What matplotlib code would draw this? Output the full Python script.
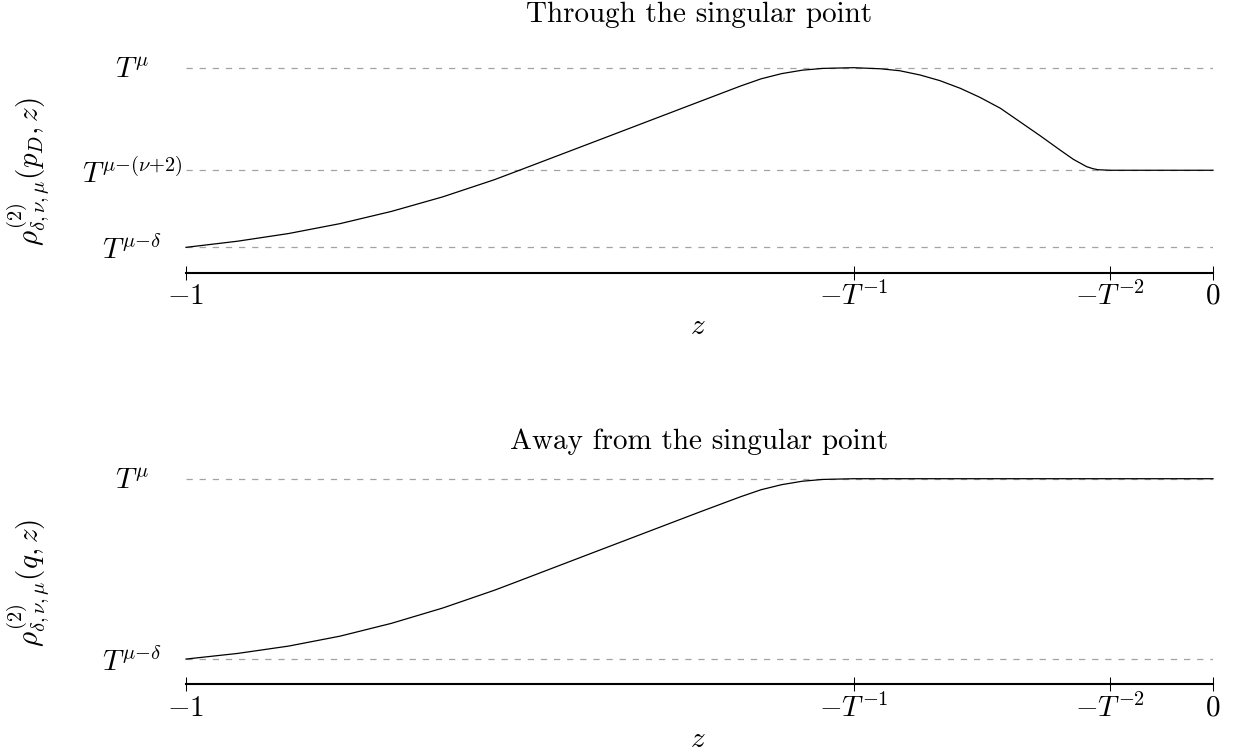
import numpy as np
import matplotlib
matplotlib.use('Agg')
import matplotlib.pyplot as plt

plt.rcParams['mathtext.fontset'] = 'cm'

# z positions of the tick marks (axis scaled so that -1 -> 0 spans the width)
z_ticks = [-1.0, -0.35, -0.10, 0.0]
z_labels = [r'$-1$', r'$-T^{-1}$', r'$-T^{-2}$', r'$0$']

# levels of the dashed reference lines, normalised so T^{mu-delta}=0, T^mu=1
levels_top = [1.0, 0.429, 0.0]
labels_top = [r'$T^{\mu}$', r'$T^{\mu{-}(\nu{+}2)}$', r'$T^{\mu{-}\delta}$']
levels_bot = [1.0, 0.0]
labels_bot = [r'$T^{\mu}$', r'$T^{\mu{-}\delta}$']

# weight through the singular point
z_through = [-1.0, -0.95, -0.90, -0.85, -0.80, -0.75, -0.70, -0.68,
             -0.60, -0.50, -0.46, -0.44, -0.42, -0.40, -0.38, -0.35,
             -0.324, -0.305, -0.285, -0.266, -0.246, -0.227, -0.207, -0.188,
             -0.168, -0.149, -0.136, -0.123, -0.117, -0.112, -0.100, 0.0]
rho_through = [0.0, 0.034, 0.077, 0.132, 0.200, 0.281, 0.376, 0.419,
               0.593, 0.811, 0.898, 0.938, 0.967, 0.986, 0.996, 1.0,
               0.994, 0.983, 0.959, 0.928, 0.885, 0.835, 0.774, 0.699,
               0.620, 0.542, 0.490, 0.449, 0.438, 0.432, 0.429, 0.429]

# weight away from the singular point
z_away = [-1.0, -0.95, -0.90, -0.85, -0.80, -0.75, -0.70, -0.68,
          -0.60, -0.50, -0.46, -0.44, -0.42, -0.40, -0.38, -0.35, 0.0]
rho_away = [0.0, 0.031, 0.072, 0.127, 0.198, 0.283, 0.381, 0.424,
            0.598, 0.815, 0.900, 0.939, 0.967, 0.986, 0.996, 1.0, 1.0]

W, H = 1237, 751
FS = 21


def panel(rect, levels, level_labels, z, rho, ylabel, title, ylab_y, title_y, zlab_y):
    fig = plt.gcf()
    ax = fig.add_axes(rect)
    ax.set_xlim(-1, 0)
    ax.set_ylim(-0.14, 1.05)

    for lev in levels:
        ax.axhline(lev, color='#a3a3a3', lw=0.9, ls=(0, (5, 5.5)), zorder=1)
    ax.plot(z, rho, color='k', lw=0.9, clip_on=False, zorder=2)

    for s in ['top', 'right', 'left']:
        ax.spines[s].set_visible(False)
    ax.spines['bottom'].set_linewidth(1.5)

    ax.set_xticks(z_ticks)
    ax.set_xticklabels(z_labels, fontsize=FS)
    ax.tick_params(axis='x', direction='inout', length=9.4, width=0.75, pad=2)

    ax.set_yticks(levels)
    ax.set_yticklabels(level_labels, fontsize=FS, ha='center')
    ax.tick_params(axis='y', length=0, pad=38.9)

    cx = (186 + 1213) / 2 / W
    fig.text(cx, 1 - title_y / H, title, fontfamily='cmr10', fontsize=FS,
             ha='center', va='baseline')
    fig.text(cx - 1.5 / W, 1 - zlab_y / H, r'$z$', fontsize=FS,
             ha='center', va='center')
    fig.text(29 / W, 1 - ylab_y / H, ylabel, fontsize=FS, rotation=90,
             ha='center', va='center')
    return ax


def main():
    fig = plt.figure(figsize=(W / 100, H / 100), dpi=100)
    left = 186 / W
    width = (1213 - 186) / W

    panel([left, 1 - 272.5 / H, width, (272.5 - 58.7) / H],
          levels_top, labels_top, z_through, rho_through,
          r'$\rho^{(2)}_{\delta,\nu,\mu}(p_D,z)$',
          'Through the singular point', 172, 22, 326)
    panel([left, 1 - 684.3 / H, width, (684.3 - 469.7) / H],
          levels_bot, labels_bot, z_away, rho_away,
          r'$\rho^{(2)}_{\delta,\nu,\mu}(q,z)$',
          'Away from the singular point', 583, 449, 739)

    fig.savefig('out.png', dpi=100)


if __name__ == '__main__':
    main()
